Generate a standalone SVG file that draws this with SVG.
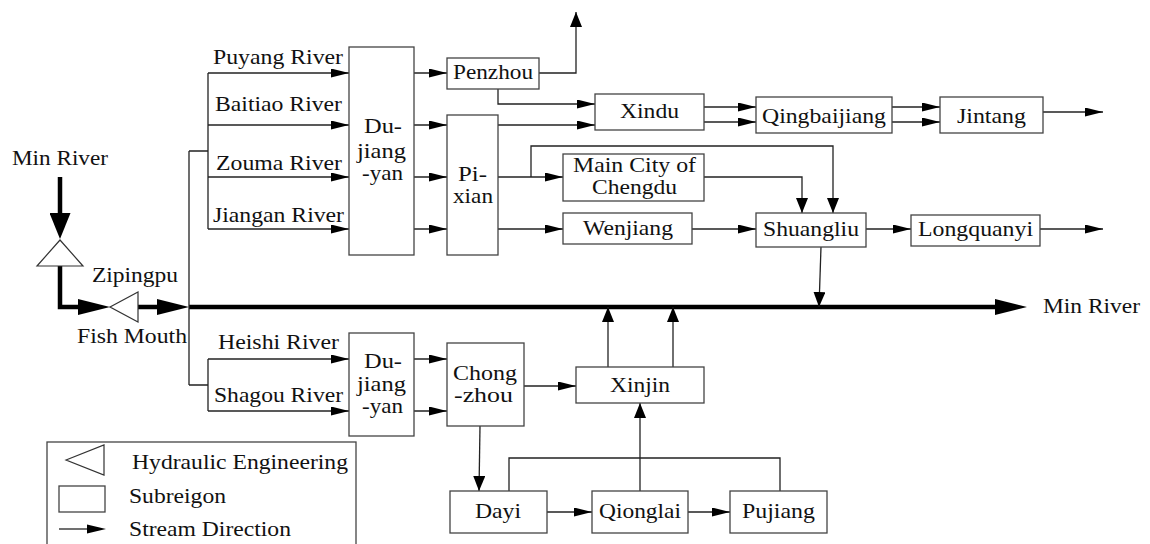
<svg xmlns="http://www.w3.org/2000/svg" width="1150" height="544" viewBox="0 0 1150 544">
<style>
.t{font-family:"Liberation Serif","Times New Roman",serif;font-size:21px;fill:#111}
.box{fill:#fff;stroke:#444;stroke-width:1.3}
.ln{fill:none;stroke:#222;stroke-width:1.3}
.h{marker-end:url(#ah)}
.v{marker-end:url(#av)}
.thick{fill:none;stroke:#000;stroke-width:4.5}
.tri{fill:#fff;stroke:#333;stroke-width:1.2}
</style>
<defs>
<marker id="ah" markerUnits="userSpaceOnUse" markerWidth="18" markerHeight="9" refX="18" refY="4.5" orient="auto"><path d="M0,0 L18,4.5 L0,9 z" fill="#000"/></marker>
<marker id="av" markerUnits="userSpaceOnUse" markerWidth="15" markerHeight="12" refX="15" refY="6" orient="auto"><path d="M0,0 L15,6 L0,12 z" fill="#000"/></marker>
<marker id="thH" markerUnits="userSpaceOnUse" markerWidth="32" markerHeight="16" refX="16" refY="8" orient="auto"><path d="M0,0 L32,8 L0,16 z" fill="#000"/></marker>
<marker id="thV" markerUnits="userSpaceOnUse" markerWidth="26" markerHeight="21" refX="13" refY="10.5" orient="auto"><path d="M0,0 L26,10.5 L0,21 z" fill="#000"/></marker>
</defs>
<rect width="1150" height="544" fill="#fff"/>

<g id="connectors">
<path class="thick" d="M60,177 V226" marker-end="url(#thV)"/>
<path class="thick" d="M60,266 V307 H94" marker-end="url(#thH)"/>
<path class="thick" d="M138,307 H173" marker-end="url(#thH)"/>
<path class="thick" d="M189,307 H1011" marker-end="url(#thH)"/>
<circle cx="138" cy="307" r="2" fill="#000"/>
<path class="ln" d="M189,151 V385 M189,151 H208 M189,385 H208 M208,73 V229 M208,359 V411"/>
<path class="ln h" d="M208,73 H349"/>
<path class="ln h" d="M208,125 H349"/>
<path class="ln h" d="M208,177 H349"/>
<path class="ln h" d="M208,229 H349"/>
<path class="ln h" d="M414,73 H447"/>
<path class="ln h" d="M414,125 H447"/>
<path class="ln h" d="M414,177 H447"/>
<path class="ln h" d="M414,229 H447"/>
<path class="ln v" d="M539,73 H576 V12"/>
<path class="ln h" d="M498,89 V104 H595"/>
<path class="ln h" d="M498,125 H595"/>
<path class="ln h" d="M498,177 H563"/>
<path class="ln v" d="M531,177 V146 H833 V213"/>
<path class="ln v" d="M704,177 H802 V213"/>
<path class="ln h" d="M498,229 H563"/>
<path class="ln h" d="M692,229 H756"/>
<path class="ln h" d="M704,107 H756"/>
<path class="ln h" d="M704,122 H756"/>
<path class="ln h" d="M892,107 H940"/>
<path class="ln h" d="M892,122 H940"/>
<path class="ln h" d="M1043,112 H1103"/>
<path class="ln h" d="M866,229 H911"/>
<path class="ln h" d="M1040,229 H1103"/>
<path class="ln v" d="M821,247 L819,307"/>
<path class="ln h" d="M208,359 H349"/>
<path class="ln h" d="M208,411 H349"/>
<path class="ln h" d="M414,359 H447"/>
<path class="ln h" d="M414,411 H447"/>
<path class="ln h" d="M524,386 H576"/>
<path class="ln v" d="M608,367 V307"/>
<path class="ln v" d="M673,367 V307"/>
<path class="ln v" d="M480,426 L479,491"/>
<path class="ln h" d="M547,512 H592"/>
<path class="ln h" d="M688,512 H730"/>
<path class="ln v" d="M640,491 V403"/>
<path class="ln" d="M509,491 V458 H780 V491"/>
</g>

<g id="minriver-in"><text class="t" x="12" y="165" textLength="96" lengthAdjust="spacingAndGlyphs">Min River</text></g>
<g id="minriver-out"><text class="t" x="1043" y="313" textLength="97" lengthAdjust="spacingAndGlyphs">Min River</text></g>
<g id="zipingpu"><polygon class="tri" points="60,240 37,266 83,266"/><text class="t" x="92" y="282" textLength="86" lengthAdjust="spacingAndGlyphs">Zipingpu</text></g>
<g id="fishmouth"><polygon class="tri" points="110,307 138,292 138,322"/><text class="t" x="77" y="343" textLength="110" lengthAdjust="spacingAndGlyphs">Fish Mouth</text></g>

<g id="river-labels">
<text class="t" x="213" y="64" textLength="130" lengthAdjust="spacingAndGlyphs">Puyang River</text>
<text class="t" x="215" y="111" textLength="127" lengthAdjust="spacingAndGlyphs">Baitiao River</text>
<text class="t" x="216" y="170" textLength="126" lengthAdjust="spacingAndGlyphs">Zouma River</text>
<text class="t" x="213" y="222" textLength="131" lengthAdjust="spacingAndGlyphs">Jiangan River</text>
<text class="t" x="218" y="349" textLength="121" lengthAdjust="spacingAndGlyphs">Heishi River</text>
<text class="t" x="214" y="402" textLength="129" lengthAdjust="spacingAndGlyphs">Shagou River</text>
</g>

<g id="dujiangyan-upper"><rect class="box" x="349" y="47" width="65" height="208"/>
<text class="t" x="364" y="133" textLength="38" lengthAdjust="spacingAndGlyphs">Du-</text>
<text class="t" x="357" y="158" textLength="49" lengthAdjust="spacingAndGlyphs">jiang</text>
<text class="t" x="362" y="180" textLength="41" lengthAdjust="spacingAndGlyphs">-yan</text></g>

<g id="dujiangyan-lower"><rect class="box" x="349" y="333" width="65" height="103"/>
<text class="t" x="364" y="368" textLength="38" lengthAdjust="spacingAndGlyphs">Du-</text>
<text class="t" x="357" y="391" textLength="49" lengthAdjust="spacingAndGlyphs">jiang</text>
<text class="t" x="362" y="413" textLength="41" lengthAdjust="spacingAndGlyphs">-yan</text></g>

<g id="penzhou"><rect class="box" x="447" y="58" width="92" height="31"/><text class="t" x="453" y="79" textLength="80" lengthAdjust="spacingAndGlyphs">Penzhou</text></g>
<g id="pixian"><rect class="box" x="447" y="115" width="51" height="140"/>
<text class="t" x="458" y="181" textLength="29" lengthAdjust="spacingAndGlyphs">Pi-</text>
<text class="t" x="453" y="203" textLength="40" lengthAdjust="spacingAndGlyphs">xian</text></g>
<g id="xindu"><rect class="box" x="595" y="94" width="109" height="36"/><text class="t" x="620" y="118" textLength="59" lengthAdjust="spacingAndGlyphs">Xindu</text></g>
<g id="qingbaijiang"><rect class="box" x="756" y="97" width="136" height="36"/><text class="t" x="762" y="123" textLength="124" lengthAdjust="spacingAndGlyphs">Qingbaijiang</text></g>
<g id="jintang"><rect class="box" x="940" y="97" width="103" height="36"/><text class="t" x="957" y="123" textLength="69" lengthAdjust="spacingAndGlyphs">Jintang</text></g>
<g id="maincity"><rect class="box" x="563" y="154" width="141" height="47"/>
<text class="t" x="573" y="172" textLength="123" lengthAdjust="spacingAndGlyphs">Main City of</text>
<text class="t" x="592" y="194" textLength="85" lengthAdjust="spacingAndGlyphs">Chengdu</text></g>
<g id="wenjiang"><rect class="box" x="563" y="213" width="129" height="31"/><text class="t" x="583" y="235" textLength="90" lengthAdjust="spacingAndGlyphs">Wenjiang</text></g>
<g id="shuangliu"><rect class="box" x="756" y="213" width="110" height="34"/><text class="t" x="763" y="236" textLength="96" lengthAdjust="spacingAndGlyphs">Shuangliu</text></g>
<g id="longquanyi"><rect class="box" x="911" y="215" width="129" height="31"/><text class="t" x="918" y="236" textLength="115" lengthAdjust="spacingAndGlyphs">Longquanyi</text></g>
<g id="chongzhou"><rect class="box" x="447" y="343" width="77" height="83"/>
<text class="t" x="453" y="380" textLength="64" lengthAdjust="spacingAndGlyphs">Chong</text>
<text class="t" x="454" y="402" textLength="59" lengthAdjust="spacingAndGlyphs">-zhou</text></g>
<g id="xinjin"><rect class="box" x="576" y="367" width="128" height="36"/><text class="t" x="610" y="392" textLength="60" lengthAdjust="spacingAndGlyphs">Xinjin</text></g>
<g id="dayi"><rect class="box" x="450" y="491" width="97" height="42"/><text class="t" x="475" y="518" textLength="46" lengthAdjust="spacingAndGlyphs">Dayi</text></g>
<g id="qionglai"><rect class="box" x="592" y="491" width="96" height="42"/><text class="t" x="599" y="518" textLength="82" lengthAdjust="spacingAndGlyphs">Qionglai</text></g>
<g id="pujiang"><rect class="box" x="730" y="491" width="97" height="42"/><text class="t" x="742" y="518" textLength="73" lengthAdjust="spacingAndGlyphs">Pujiang</text></g>

<g id="legend">
<rect class="box" x="47" y="442" width="309" height="110"/>
<polygon class="tri" points="66,460 104,445 104,475"/>
<text class="t" x="132" y="469" textLength="216" lengthAdjust="spacingAndGlyphs">Hydraulic Engineering</text>
<rect class="box" x="59" y="486" width="46" height="26"/>
<text class="t" x="129" y="503" textLength="97" lengthAdjust="spacingAndGlyphs">Subreigon</text>
<path class="ln" d="M59,529 H88"/><path d="M87,524.5 L106,529 L87,533.5 z" fill="#000"/>
<text class="t" x="129" y="536" textLength="162" lengthAdjust="spacingAndGlyphs">Stream Direction</text>
</g>
</svg>
